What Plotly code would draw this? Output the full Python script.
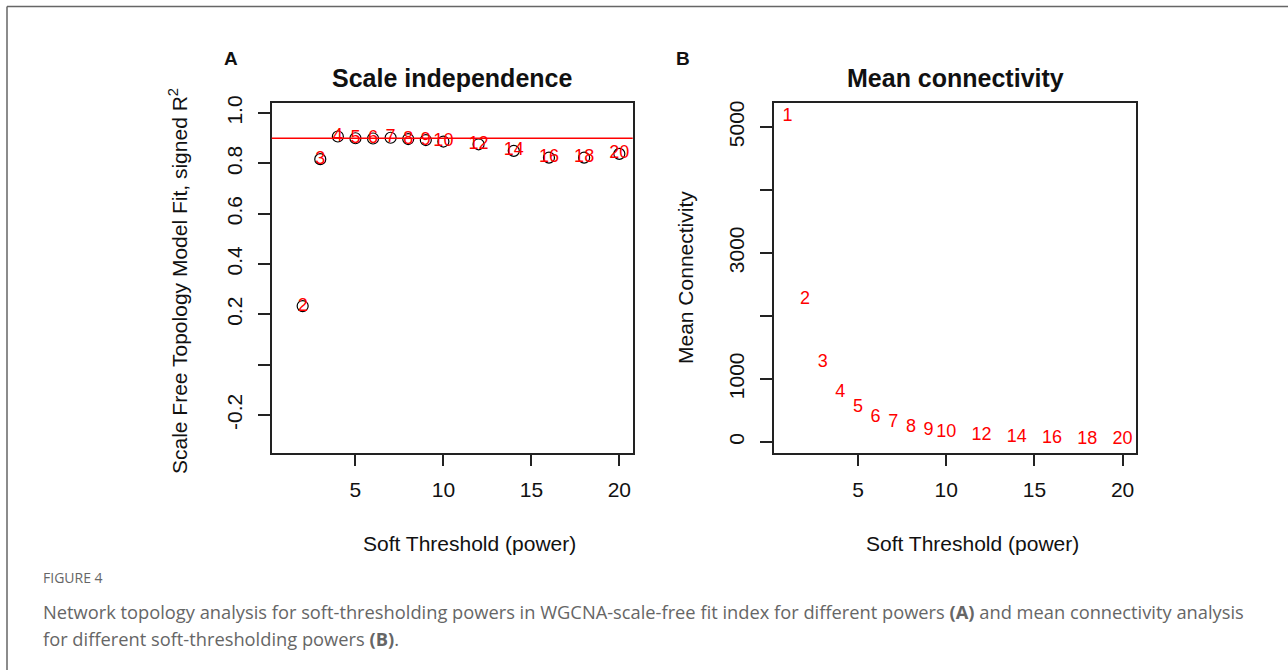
import plotly.graph_objects as go

# ---------------- data ----------------
powers = [1, 2, 3, 4, 5, 6, 7, 8, 9, 10, 12, 14, 16, 18, 20]
fit_powers = [2, 3, 4, 5, 6, 7, 8, 9, 10, 12, 14, 16, 18, 20]
signed_r2 = [0.233, 0.817, 0.907, 0.900, 0.899, 0.902, 0.897, 0.893, 0.887, 0.876, 0.850, 0.823, 0.823, 0.838]
mean_k = [5159, 2258, 1255, 791, 549, 391, 306, 233, 179, 158, 106, 74, 53, 43, 32]
x_ticks = [5, 10, 15, 20]
a_ticks = [-0.2, 0.2, 0.4, 0.6, 0.8, 1.0]
a_tick_text = ["-0.2", "0.2", "0.4", "0.6", "0.8", "1.0"]
a_unlabeled_ticks = [0.0]
b_ticks = [0, 1000, 3000, 5000]
b_tick_text = ["0", "1000", "3000", "5000"]
b_unlabeled_ticks = [2000, 4000]
cutoff = 0.90

W, H = 1288, 670
FONT = "Liberation Sans, Arial, sans-serif"


def px(x):
    return x / W


def py(y):
    return 1 - y / H


fig = go.Figure()

# Panel A
fig.add_trace(go.Scatter(
    x=fit_powers, y=signed_r2, mode="markers", xaxis="x", yaxis="y",
    marker=dict(symbol="circle-open", size=11, color="black", line=dict(width=1.2, color="black")),
    hoverinfo="skip", showlegend=False))
fig.add_trace(go.Scatter(
    x=fit_powers, y=signed_r2, mode="text", xaxis="x", yaxis="y",
    text=[str(p) for p in fit_powers], textposition="middle center",
    textfont=dict(color="red", size=18, family=FONT), showlegend=False))

# Panel B
fig.add_trace(go.Scatter(
    x=powers, y=mean_k, mode="text", xaxis="x2", yaxis="y2",
    text=[str(p) for p in powers], textposition="middle center",
    textfont=dict(color="red", size=18, family=FONT), showlegend=False))

axis_common = dict(
    showgrid=False, zeroline=False, showline=True, mirror=True, automargin=False,
    linecolor="#222", linewidth=1.5, ticks="outside", ticklen=12,
    tickwidth=1.5, tickcolor="#222",
    tickfont=dict(family=FONT, size=21, color="#111"),
)


def minor(vals):
    return dict(tickmode="array", tickvals=vals, ticks="outside", ticklen=12,
                tickwidth=1.5, tickcolor="#222", showgrid=False)


ax_y0, ax_y1 = py(452.5), py(103.3)

fig.update_layout(
    template="none",
    width=W, height=H,
    margin=dict(l=0, r=0, t=0, b=0, pad=0),
    paper_bgcolor="white", plot_bgcolor="white",
    font=dict(family=FONT),
    showlegend=False,
    xaxis=dict(domain=[px(271.7), px(632.7)], range=[0.24, 20.76],
               tickvals=x_ticks, anchor="y", ticklabelstandoff=6, **axis_common),
    yaxis=dict(domain=[ax_y0, ax_y1], range=[-0.349, 1.039],
               tickvals=a_ticks, ticktext=a_tick_text, tickangle=-90,
               minor=minor(a_unlabeled_ticks),
               anchor="x", ticklabelstandoff=8, **axis_common),
    xaxis2=dict(domain=[px(774), px(1136)], range=[0.24, 20.76],
                tickvals=x_ticks, anchor="y2", ticklabelstandoff=6, **axis_common),
    yaxis2=dict(domain=[ax_y0, ax_y1], range=[-167, 5376],
                tickvals=b_ticks, ticktext=b_tick_text, tickangle=-90,
                minor=minor(b_unlabeled_ticks),
                anchor="x2", ticklabelstandoff=8, **axis_common),
)

# cutoff line
fig.add_shape(type="line", xref="x domain", yref="y", x0=0, x1=1, y0=cutoff, y1=cutoff,
              line=dict(color="red", width=1.5))

# figure border (top + left)
fig.add_shape(type="line", xref="paper", yref="paper", x0=px(7), x1=1.0, y0=py(6.5), y1=py(6.5),
              line=dict(color="#666", width=1.5))
fig.add_shape(type="line", xref="paper", yref="paper", x0=px(7), x1=px(7), y0=py(6.5), y1=0,
              line=dict(color="#666", width=1.5))

ann = []


def add_text(x, y, text, size, color="#111", bold=False, angle=0, family=FONT, xanchor="center"):
    ann.append(dict(x=px(x), y=py(y), xref="paper", yref="paper", text=(f"<b>{text}</b>" if bold else text),
                    showarrow=False, xanchor=xanchor, yanchor="middle", textangle=angle,
                    font=dict(size=size, color=color, family=family)))


add_text(231, 58, "A", 19, bold=True)
add_text(683, 58, "B", 19, bold=True)
add_text(452, 78, "Scale independence", 25, bold=True)
add_text(955, 78, "Mean connectivity", 25, bold=True)
add_text(469, 543, "Soft Threshold (power)", 21)
add_text(972, 543, "Soft Threshold (power)", 21)
add_text(178, 281, "Scale Free Topology Model Fit, signed R<sup>2</sup>", 21, angle=-90)
add_text(686, 278, "Mean Connectivity", 21, angle=-90)

CAP = "Open Sans, Noto Sans, sans-serif"
add_text(41, 577, "FIGURE 4", 14, color="#666", family=CAP, xanchor="left")
add_text(41, 611, "Network topology analysis for soft-thresholding powers in WGCNA-scale-free fit index for different powers <b>(A)</b> and mean connectivity analysis",
         18.3, color="#666", family=CAP, xanchor="left")
add_text(41, 638, "for different soft-thresholding powers <b>(B)</b>.", 18.3, color="#666", family=CAP, xanchor="left")

fig.update_layout(annotations=ann)

fig.write_html("out.html")
